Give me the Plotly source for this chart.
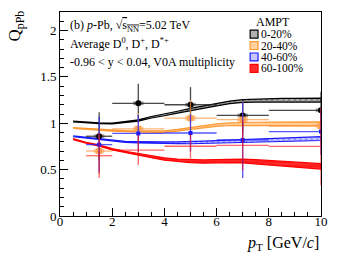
import plotly.graph_objects as go

# ---------------- data ----------------
pt = [1.5, 3, 5, 7, 10]
pt_lo = [0.5, 1, 1, 1, 2]
pt_hi = [0.5, 1, 1, 1, 2]

q_0_20 = [0.86, 1.215, 1.20, 1.085, 1.14]
e_0_20 = [0.26, 0.21, 0.19, 0.17, 0.20]
q_20_40 = [0.70, 0.94, 1.055, 1.04, 0.97]
e_20_40 = [0.25, 0.17, 0.20, 0.20, 0.20]
q_40_60 = [0.77, 0.89, 0.895, 0.82, 0.91]
e_40_60 = [0.30, 0.20, 0.20, 0.41, 0.25]
q_60_100 = [0.65, 0.71, 0.752, 0.762, 0.75]
e_60_100 = [0.24, 0.16, 0.13, 0.27, 0.42]
sys_0_20 = [0.02, 0.02, 0.02, 0.02, 0.02]
sys_20_40 = [0.025, 0.025, 0.025, 0.025, 0.025]

ampt_pt = [0.5, 1, 1.5, 2, 2.5, 3, 3.5, 4, 4.5, 5, 5.5, 6, 6.5, 7, 7.5, 8, 8.5, 9, 9.5, 10]
ampt_0_20 = [1.02, 1.01, 1.0, 0.998, 1.01, 1.03, 1.065, 1.09, 1.12, 1.15, 1.175, 1.20, 1.225, 1.24,
             1.245, 1.245, 1.25, 1.25, 1.25, 1.25]
ampt_20_40 = [0.95, 0.94, 0.93, 0.92, 0.915, 0.91, 0.91, 0.91, 0.925, 0.945, 0.965, 0.98, 0.99, 0.995,
              0.995, 0.995, 0.995, 0.995, 0.995, 0.995]
ampt_40_60 = [0.86, 0.845, 0.83, 0.815, 0.80, 0.795, 0.79, 0.79, 0.79, 0.79, 0.795, 0.80, 0.805, 0.81,
              0.815, 0.82, 0.825, 0.828, 0.83, 0.835]
ampt_60_100 = [0.83, 0.79, 0.76, 0.72, 0.69, 0.665, 0.64, 0.615, 0.60, 0.59, 0.588, 0.59, 0.595, 0.593,
               0.585, 0.575, 0.565, 0.555, 0.545, 0.535]
ampt_hw = [0.004, 0.004, 0.005, 0.005, 0.006, 0.007, 0.008, 0.009, 0.010, 0.011, 0.012, 0.013, 0.014,
           0.015, 0.016, 0.017, 0.018, 0.019, 0.020, 0.021]

x_ticks = [0, 2, 4, 6, 8, 10]
y_ticks = [0, 0.5, 1, 1.5, 2]
y_ticklabels = ["0", "0.5", "1", "1.5", "2"]

legend_title = "AMPT"
classes = ["0-20%", "20-40%", "40-60%", "60-100%"]

# ---------------- styles ----------------
line_col = ["#000000", "#ff9933", "#1a1aff", "#ff0000"]
band_bg = ["#b0b0b0", "#ffd2a0", "#c8c8ff", "#ff2a2a"]
band_shape = ["x", "+", "x", "-"]
err_col = ["rgba(40,40,40,0.85)", "rgba(255,150,60,0.7)", "rgba(30,30,255,0.75)", "rgba(255,0,0,0.6)"]
mk_sym = ["circle", "square", "square", "line-ew"]
mk_size = [6, 6, 4, 1]
mk_col = ["#000000", "#ffa050", "#1a1aff", "#ff0000"]

SERIF = "Liberation Serif"
fig = go.Figure()

ampt_sets = [ampt_0_20, ampt_20_40, ampt_40_60, ampt_60_100]
for i, yc in enumerate(ampt_sets):
    hw = [h * (1.4 if i == 3 else 1.0) for h in ampt_hw]
    up = [a + b for a, b in zip(yc, hw)]
    lo = [a - b for a, b in zip(yc, hw)]
    fig.add_trace(go.Scatter(
        x=ampt_pt + ampt_pt[::-1], y=up + lo[::-1], mode="lines", fill="toself",
        fillcolor=band_bg[i], line=dict(color=line_col[i], width=1.2),
        fillpattern=dict(shape=band_shape[i], fgcolor=line_col[i], bgcolor=band_bg[i],
                         size=4, solidity=0.3),
        showlegend=False, hoverinfo="skip"))

data_sets = [(q_0_20, e_0_20), (q_20_40, e_20_40), (q_40_60, e_40_60), (q_60_100, e_60_100)]
sys_sets = [sys_0_20, sys_20_40]
for i, (sx, col) in enumerate(zip(sys_sets, ["rgba(90,90,90,0.6)", "rgba(255,170,90,0.6)"])):
    yv = data_sets[i][0]
    for xc, yy, s in zip(pt, yv, sx):
        fig.add_trace(go.Scatter(
            x=[xc - 0.2, xc + 0.2, xc + 0.2, xc - 0.2, xc - 0.2],
            y=[yy - s, yy - s, yy + s, yy + s, yy - s],
            mode="lines", fill="toself", fillcolor=col, line=dict(width=0),
            showlegend=False, hoverinfo="skip"))

for i, (yv, ev) in enumerate(data_sets):
    fig.add_trace(go.Scatter(
        x=pt, y=yv, mode="markers",
        marker=dict(symbol=mk_sym[i], size=mk_size[i], color=mk_col[i],
                    line=dict(width=0, color=mk_col[i])),
        error_y=dict(type="data", array=ev, color=err_col[i], thickness=1.3, width=0),
        error_x=dict(type="data", array=pt_hi, arrayminus=pt_lo, color=err_col[i],
                     thickness=1.3, width=0),
        showlegend=False, cliponaxis=True))

# ---------------- manual legend ----------------
def px2x(px):
    return (px - 60.3) / 265.2

def px2y(py):
    return (216.3 - py) / 205.6

fig.add_annotation(text=legend_title, xref="paper", yref="paper", x=px2x(277), y=px2y(21),
                   showarrow=False, xanchor="center", yanchor="middle",
                   font=dict(family=SERIF, size=12, color="black"))
rows = [33, 44.5, 56, 67.5]
for i, name in enumerate(classes):
    fig.add_annotation(text=name, xref="paper", yref="paper", x=px2x(262), y=px2y(rows[i]),
                       showarrow=False, xanchor="left", yanchor="middle",
                       font=dict(family=SERIF, size=11.5, color="black"))
    fig.add_shape(type="rect", xref="paper", yref="paper",
                  x0=px2x(253.5), x1=px2x(261.5), y0=px2y(rows[i] + 4), y1=px2y(rows[i] - 4),
                  fillcolor=band_bg[i], line=dict(color=line_col[i], width=1.2))

# ---------------- labels ----------------
fig.add_annotation(text="(b) <i>p</i>-Pb, √<span style='text-decoration:overline'>s<sub>NN</sub></span>=5.02 TeV",
                   xref="paper", yref="paper", x=px2x(68), y=px2y(25), showarrow=False,
                   xanchor="left", yanchor="middle", font=dict(family=SERIF, size=12, color="black"))
fig.add_annotation(text="Average D<sup>0</sup>, D<sup>+</sup>, D<sup>*+</sup>",
                   xref="paper", yref="paper", x=px2x(68), y=px2y(42), showarrow=False,
                   xanchor="left", yanchor="middle", font=dict(family=SERIF, size=12, color="black"))
fig.add_annotation(text="-0.96 < y < 0.04, V0A multiplicity",
                   xref="paper", yref="paper", x=px2x(68), y=px2y(61), showarrow=False,
                   xanchor="left", yanchor="middle", font=dict(family=SERIF, size=12, color="black"))
fig.add_annotation(text="<i>p</i><sub>T</sub> [GeV/<i>c</i>]",
                   xref="paper", yref="paper", x=1.0, y=px2y(244), showarrow=False,
                   xanchor="right", yanchor="middle", font=dict(family=SERIF, size=16, color="black"))
fig.add_annotation(text="Q<sub>pPb</sub>", textangle=-90,
                   xref="paper", yref="paper", x=px2x(16), y=px2y(25), showarrow=False,
                   xanchor="center", yanchor="middle", font=dict(family=SERIF, size=17, color="black"))

axis_common = dict(showline=True, linecolor="black", linewidth=1, mirror=True, showgrid=False,
                   zeroline=False, ticks="inside", ticklen=8, tickcolor="black",
                   tickfont=dict(family=SERIF, size=13, color="#000000"))
fig.update_xaxes(range=[0, 10], tickvals=x_ticks, ticklabelstandoff=-7,
                 minor=dict(ticks="inside", ticklen=4, dtick=0.5, tickcolor="black"), **axis_common)
fig.update_yaxes(range=[0, 2.2], tickvals=y_ticks, ticktext=y_ticklabels,
                 minor=dict(ticks="inside", ticklen=4, dtick=0.1, tickcolor="black"), **axis_common)

fig.update_layout(width=339, height=263, margin=dict(l=60, r=14, t=11, b=47, pad=0),
                  font=dict(family=SERIF, size=13, color="black"),
                  plot_bgcolor="white", paper_bgcolor="white", showlegend=False)

fig.write_html("out.html", config={"displayModeBar": False},
               post_script="document.body.style.margin='0';")
